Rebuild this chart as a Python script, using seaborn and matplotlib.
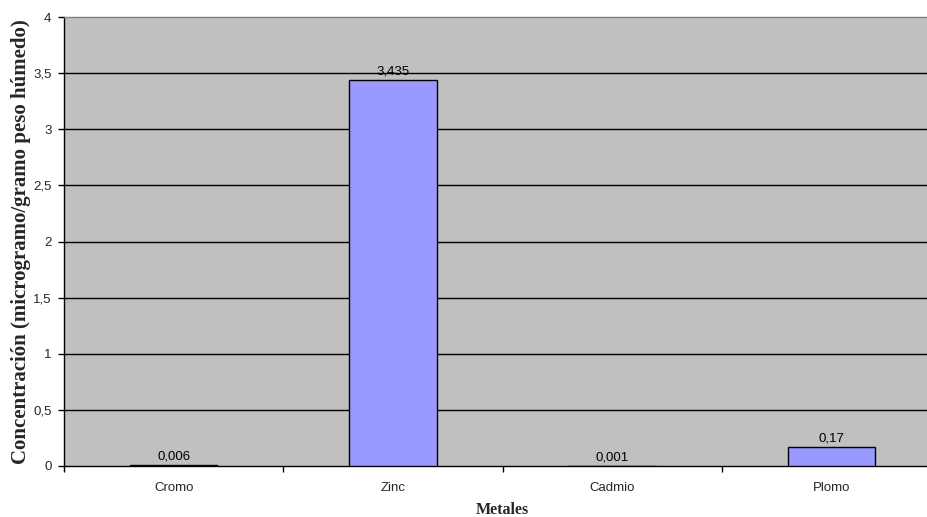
import matplotlib
matplotlib.use("Agg")
import matplotlib.pyplot as plt
from matplotlib.ticker import FixedLocator, FuncFormatter, MultipleLocator
import seaborn as sns
import pandas as pd

# Metal concentrations (microgram per gram wet weight)
metales = ["Cromo", "Zinc", "Cadmio", "Plomo"]
concentracion = [0.006, 3.435, 0.001, 0.17]
etiquetas = ["0,006", "3,435", "0,001", "0,17"]

df = pd.DataFrame({"Metales": metales, "Concentracion": concentracion})

sns.set_style("white")
plt.rcParams["font.family"] = ["Liberation Sans", "DejaVu Sans"]

fig = plt.figure(figsize=(9.28, 5.17), dpi=100)
ax = fig.add_axes([64 / 928, 51 / 517, 877 / 928, 449 / 517])
ax.set_facecolor("#C0C0C0")

sns.barplot(data=df, x="Metales", y="Concentracion", order=metales,
            color="#9999FF", saturation=1, width=0.4,
            edgecolor="black", linewidth=1, ax=ax, zorder=3)

ax.bar_label(ax.containers[0], labels=etiquetas, padding=2,
             fontsize=9.5, color="black")

# y axis: 0 to 4 in steps of 0.5 with comma decimals
ax.set_ylim(0, 4)
ax.yaxis.set_major_locator(MultipleLocator(0.5))
ax.yaxis.set_major_formatter(FuncFormatter(lambda v, p: f"{v:g}".replace(".", ",")))
for v in [0.5, 1, 1.5, 2, 2.5, 3, 3.5]:
    ax.axhline(v, color="black", linewidth=1, zorder=1)

# x axis: boundary ticks between categories
ax.set_xlim(-0.5, 3.5)
ax.xaxis.set_minor_locator(FixedLocator([-0.5, 0.5, 1.5, 2.5, 3.5]))
ax.tick_params(axis="x", which="major", length=0, pad=11.5, labelsize=9.5)
ax.tick_params(axis="x", which="minor", length=4, width=1, color="black",
               direction="out", bottom=True)
ax.tick_params(axis="y", which="major", length=4, width=1, color="black",
               direction="out", left=True, pad=5, labelsize=9.5)

for side in ["left", "bottom"]:
    ax.spines[side].set_color("black")
    ax.spines[side].set_linewidth(1)
ax.spines["top"].set_color("#808080")
ax.spines["top"].set_linewidth(1)
ax.spines["right"].set_visible(False)

ax.set_xlabel("Metales", fontfamily="Liberation Serif", fontweight="bold",
              fontsize=11.5, labelpad=5.5)
ax.set_ylabel("Concentración (microgramo/gramo peso húmedo)",
              fontfamily="Liberation Serif", fontweight="bold", fontsize=15)
ax.yaxis.set_label_coords(-0.038, 0.5)

fig.savefig("out.png", dpi=100)
